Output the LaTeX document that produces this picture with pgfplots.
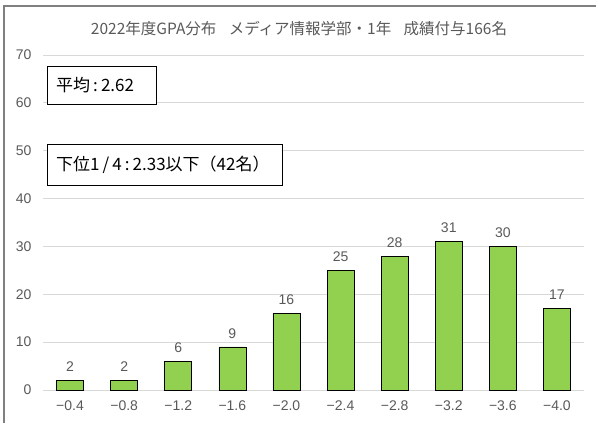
\documentclass[border=0pt]{standalone}
\usepackage{pgfplots}
\pgfplotsset{compat=1.18}
\usepackage{fontspec}
\setmainfont{Liberation Sans}
\newfontfamily\cjk{Noto Sans CJK JP}
\definecolor{barg}{HTML}{92D050}
\definecolor{gridc}{HTML}{D9D9D9}
\definecolor{txt}{HTML}{595959}
\newcommand{\hs}{\hspace{0.18em}}
\begin{document}
\begin{tikzpicture}[x=1pt,y=1pt]
\useasboundingbox (0,0) rectangle (596,423);
\draw[color=gray, line width=1.5pt] (4,0) -- (4,417) -- (596,417);
\begin{axis}[
  at={(43pt,33pt)}, anchor=south west,
  scale only axis, width=541pt, height=335pt,
  xmin=-0.5, xmax=9.5, ymin=0, ymax=70,
  ytick={0,10,...,70},
  xtick={0,...,9},
  xticklabels={−0.4,−0.8,−1.2,−1.6,−2.0,−2.4,−2.8,−3.2,−3.6,−4.0},
  axis line style={draw=none},
  major tick length=0pt,
  ymajorgrids, grid style={gridc, line width=0.9pt},
  tick label style={font=\fontsize{14}{16}\selectfont, text=txt},
  /pgf/number format/assume math mode=true,
  yticklabel style={xshift=-8pt},
  xticklabel style={yshift=-7pt},
  ybar, bar width=27pt,
  nodes near coords,
  nodes near coords style={font=\fontsize{14}{16}\selectfont, text=txt, yshift=5pt},
  clip=false,
]
\addplot[fill=barg, draw=black, line width=0.7pt] coordinates {
 (0,2) (1,2) (2,6) (3,9) (4,16) (5,25) (6,28) (7,31) (8,30) (9,17)};
\end{axis}
\node[font=\cjk\fontsize{15.5}{17}\selectfont, text=txt] at (299,394) {2022年度GPA分布\hspace{0.8em}メディア情報学部・1年\hspace{0.8em}成績付与166名};
\draw[black, line width=0.8pt, fill=white] (47,319) rectangle (156,357);
\node[anchor=west, inner sep=0pt, font=\cjk\fontsize{17}{19}\selectfont] at (56,338) {平均\hs:\hs2.62};
\draw[black, line width=0.8pt, fill=white] (47,238) rectangle (282,279);
\node[anchor=west, inner sep=0pt, font=\cjk\fontsize{17}{19}\selectfont] at (56,258.5) {下位1\hs/\hs4\hs:\hs2.33以下（42名）};
\end{tikzpicture}
\end{document}
